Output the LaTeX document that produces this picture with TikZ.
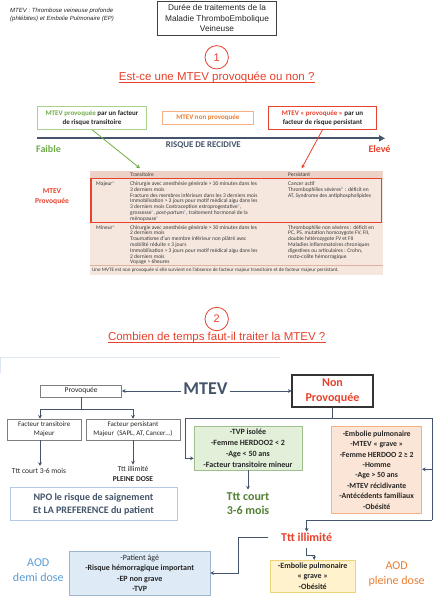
\documentclass[tikz,border=0pt]{standalone}
\usepackage{fontspec}
\setmainfont{Carlito}
\newfontfamily\arialf{Liberation Sans}
\usetikzlibrary{arrows.meta,calc}

\definecolor{redh}{RGB}{232,65,44}
\definecolor{axiscol}{RGB}{68,84,106}
\definecolor{greent}{RGB}{112,173,71}
\definecolor{greenb}{RGB}{169,209,142}
\definecolor{oranget}{RGB}{237,125,49}
\definecolor{orangeb}{RGB}{244,177,131}
\definecolor{tabbg}{RGB}{245,231,222}
\definecolor{tabhead}{RGB}{236,210,198}
\definecolor{tabline}{RGB}{226,176,158}
\definecolor{tabtxt}{RGB}{56,56,56}
\definecolor{dgreen}{RGB}{84,130,53}
\definecolor{gfill}{RGB}{226,239,217}
\definecolor{gbord}{RGB}{160,190,140}
\definecolor{ofill}{RGB}{251,229,214}
\definecolor{bfill}{RGB}{222,235,247}
\definecolor{bbord}{RGB}{157,181,205}
\definecolor{yfill}{RGB}{255,242,204}
\definecolor{ybord}{RGB}{240,210,120}
\definecolor{bluet}{RGB}{91,155,213}
\definecolor{npob}{RGB}{180,199,231}
\definecolor{faint}{RGB}{222,230,244}
\definecolor{grayb}{RGB}{127,127,127}
\definecolor{txt}{RGB}{38,38,38}

\newcommand{\fs}[2]{\fontsize{#1}{#2}\selectfont}
\newcommand{\supx}[1]{\textsuperscript{\color{bluet}#1}}

\begin{document}
\begin{tikzpicture}[x=1pt,y=-1pt,
  every node/.style={inner sep=0pt, text=txt},
  box/.style={draw, rectangle, align=center, inner sep=0pt},
  conn/.style={draw=axiscol, line width=0.9pt},
  tip/.style={-{Stealth[length=3.6pt,width=3.8pt]}},
  tabtext/.style={anchor=north west, align=left, text=tabtxt, font=\fs{5.5}{5.8}},
]
\useasboundingbox[fill=white] (0,0) rectangle (435,600);

% ---------- header ----------
\node[anchor=west, align=left, font=\arialf\itshape\fs{6}{8.3}] (legend) at (10,14.9)
  {MTEV : Thrombose veineuse profonde\\(phlébites) et Embolie Pulmonaire (EP)};
\node[box, draw=black!75, line width=0.7pt, minimum width=119.4pt, minimum height=34pt,
  font=\arialf\fs{8.3}{10.5}] (title) at (217,18)
  {Durée de traitements de la\\Maladie ThromboEmbolique\\Veineuse};

\node[circle, draw=redh, line width=0.8pt, minimum size=23.4pt, text=redh,
  font=\arialf\fs{11}{13}] (c1) at (216.7,57.3) {1};
\node[text=redh, font=\arialf\fs{11.5}{13}] (h1) at (216.7,77.3) {Est-ce une MTEV provoquée ou non ?};
\draw[redh, line width=0.6pt] ($(h1.base west)+(0,1.5)$) -- ($(h1.base east)+(0,1.5)$);

% ---------- top boxes ----------
\node[box, draw=greenb, line width=0.8pt, minimum width=109.4pt, minimum height=22.6pt,
  font=\bfseries\fs{7}{9.3}] (gtop) at (92,118)
  {\textcolor{greent}{MTEV provoquée} par un facteur\\de risque transitoire};
\node[box, draw=orangeb, line width=0.8pt, minimum width=91pt, minimum height=12.6pt,
  text=oranget, font=\bfseries\fs{7}{9}] (otop) at (207.8,118) {MTEV non provoquée};
\node[box, draw=redh, line width=0.8pt, minimum width=108.4pt, minimum height=22.6pt,
  font=\bfseries\fs{7}{9.3}] (rtop) at (322.5,118)
  {\textcolor{redh}{MTEV « provoquée »} par un\\facteur de risque persistant};

\coordinate (axL) at (37,138.3);
\coordinate (axR) at (385,138.3);
\draw[axiscol, line width=2pt, -{Triangle[length=6pt,width=6pt]}] (axL) -- (axR);
\node[text=greent, font=\bfseries\fs{10}{12}] (faible) at (48.5,149) {Faible};
\node[text=axiscol, font=\bfseries\fs{8.8}{10}] (risque) at (203.3,145) {RISQUE DE RECIDIVE};
\node[text=redh, font=\bfseries\fs{10}{12}] (eleve) at (379.5,149) {Elevé};

\coordinate (tabT) at (140,168.3);
\coordinate (tabP) at (301.7,168.3);
\draw[greent, line width=0.8pt, -{Stealth[length=4pt,width=4pt]}] (gtop.south) -- (tabT);
\draw[redh, line width=0.8pt, -{Stealth[length=4pt,width=4pt]}] (rtop.south) -- (tabP);

% ---------- table ----------
\fill[tabbg] (90,170.5) rectangle (383,275);
\fill[tabhead] (90,170.5) rectangle (383,178);
\draw[tabline, line width=0.5pt] (90,265.5) -- (383,265.5);
\draw[redh, line width=1.5pt] (91,178.7) rectangle (381.7,222.5);

\node[anchor=west, text=tabtxt, font=\fs{5.5}{6}] (hT) at (130,174.4) {Transitoire};
\node[anchor=west, text=tabtxt, font=\fs{5.5}{6}] (hP) at (288,174.4) {Persistant};
\node[tabtext] (lmaj) at (96,181.4) {Majeur\supx{a}};
\node[tabtext] (lmin) at (96,225) {Mineur\supx{a}};
\node[tabtext] (tmaj) at (130,181.4)
  {Chirurgie avec anesthésie générale > 30 minutes dans les\\
   3 derniers mois\\
   Fracture des membres inférieurs dans les 3 derniers mois\\
   Immobilisation > 3 jours pour motif médical aigu dans les\\
   3 derniers mois Contraception estroprogestative\supx{c},\\
   grossesse\supx{c}, \textit{post-partum}\supx{c}, traitement hormonal de la\\
   ménopause\supx{c}};
\node[tabtext] (pmaj) at (288,181.4)
  {Cancer actif\\
   Thrombophilies sévères\supx{b} : déficit en\\
   AT, Syndrome des antiphospholipides};
\node[tabtext] (tmin) at (130,225)
  {Chirurgie avec anesthésie générale > 30 minutes dans les\\
   2 derniers mois\\
   Traumatisme d'un membre inférieur non plâtré avec\\
   mobilité réduite ≥ 3 jours\\
   Immobilisation > 3 jours pour motif médical aigu dans les\\
   2 derniers mois\\
   Voyage > 6heures};
\node[tabtext] (pmin) at (288,225)
  {Thrombophilie non sévères : déficit en\\
   PC, PS, mutation homozygote FV, FII,\\
   double hétérozygote FV et FII\\
   Maladies inflammatoires chroniques\\
   digestives ou articulaires : Crohn,\\
   recto-colite hémorragique};
\node[anchor=west, text=tabtxt, font=\fs{5.1}{5.5}] (foot) at (92,269.8)
  {Une MVTE est non provoquée si elle survient en l'absence de facteur majeur transitoire et de facteur majeur persistant.};

\node[text=redh, align=center, font=\bfseries\fs{7.5}{10}] (mtevp) at (52,197) {MTEV\\Provoquée};

% ---------- section 2 ----------
\node[circle, draw=redh, line width=0.8pt, minimum size=23.4pt, text=redh,
  font=\arialf\fs{11}{13}] (c2) at (216.7,319) {2};
\node[text=redh, font=\arialf\fs{11.5}{13}] (h2) at (216.7,337.7) {Combien de temps faut-il traiter la MTEV ?};
\draw[redh, line width=0.6pt] ($(h2.base west)+(0,1.5)$) -- ($(h2.base east)+(0,1.5)$);

\draw[faint, line width=0.8pt] (0.6,373) -- (0.6,357.3) -- (280,357.3);

\node[text=axiscol, font=\bfseries\fs{18}{20}] (mtev) at (205.5,389) {MTEV};
\node[box, draw=grayb, line width=0.6pt, minimum width=81pt, minimum height=11.7pt,
  font=\fs{7.5}{9}] (prov) at (81.2,391) {Provoquée};
\node[box, draw=black!80, line width=1.1pt, minimum width=81pt, minimum height=32pt,
  text=redh, font=\bfseries\fs{12}{15.3}] (np) at (332.5,391) {Non\\Provoquée};

\draw[conn, tip] ($(mtev.west |- prov.east)+(-2,0)$) -- (prov.east);
\draw[conn, tip] ($(mtev.east |- np.west)+(2,0)$) -- (np.west);

\node[box, draw=grayb, line width=0.6pt, minimum width=73.7pt, minimum height=21pt,
  font=\fs{7}{8.7}] (ft) at (44.2,429.5) {Facteur transitoire\\Majeur};
\node[box, draw=grayb, line width=0.6pt, minimum width=94pt, minimum height=21pt,
  font=\fs{7}{8.7}] (fp) at (133,429.5) {Facteur persistant\\Majeur~~(SAPL, AT, Cancer\ldots)};

\coordinate (pj) at (81.2,409.3);
\coordinate (pjL) at (40,409.3);
\coordinate (pjR) at (133,409.3);
\draw[conn] (prov.south) -- (pj);
\draw[conn, tip] (pj) -- (pjL) -- (pjL |- ft.north);
\draw[conn, tip] (pj) -- (pjR) -- (fp.north);

\node[font=\fs{7.5}{9}] (ttc1) at (39,470.7) {Ttt court 3-6 mois};
\node[align=center, font=\fs{7.5}{9.7}] (tti1) at (133,474.2) {Ttt illimité\\\textbf{PLEINE DOSE}};
\draw[conn, tip, shorten >=2pt] (pjL |- ft.south) -- (pjL |- ttc1.north);
\draw[conn, tip, shorten >=2pt] (fp.south) -- (tti1.north);

\node[box, draw=npob, line width=0.9pt, minimum width=167pt, minimum height=33.5pt,
  text=axiscol, font=\bfseries\fs{10}{13}] (npo) at (93.5,504)
  {NPO le risque de saignement\\Et LA PREFERENCE du patient};

% non provoquee branch
\node[box, draw=gbord, line width=0.6pt, fill=gfill, minimum width=108pt, minimum height=43.3pt,
  font=\bfseries\fs{8}{10.8}] (gb) at (248,448.3)
  {-TVP isolée\\-Femme HERDOO2 < 2\\-Age < 50 ans\\-Facteur transitoire mineur};
\node[box, draw=orangeb, line width=0.6pt, fill=ofill, minimum width=90pt, minimum height=86.6pt,
  font=\bfseries\fs{7.8}{10.43}] (ob) at (376.7,470)
  {-Embolie pulmonaire\\-MTEV « grave »\\-Femme HERDOO 2 ≥ 2\\-Homme\\-Age > 50 ans\\-MTEV récidivante\\-Antécédents familiaux\\-Obésité};

\coordinate (nj) at (332.5,418.3);
\coordinate (nL) at (185,418.3);
\coordinate (nR) at (432,418.3);
\coordinate (nLb) at (185,458.3);
\coordinate (nRm) at (432,469.3);
\coordinate (nRb) at (432,520);
\draw[conn] (np.south) -- (nj);
\draw[conn] (nL) -- (nR) -- (nRb);
\draw[conn, tip] (nL) -- (nLb) -- (nLb -| gb.west);
\draw[conn, tip] (nRm) -- (nRm -| ob.east);

\node[text=dgreen, align=center, font=\bfseries\fs{12}{14.3}] (ttc2) at (248,503.8) {Ttt court\\3-6 mois};
\draw[conn, tip, shorten >=3pt] (gb.south) -- (ttc2.north);

\node[text=redh, font=\bfseries\fs{12}{14}] (tti2) at (306.7,537.5) {Ttt illimité};
\draw[conn, tip, shorten >=1.5pt] (nRb) -- (nRb -| tti2.north) -- (tti2.north);

\node[box, draw=bbord, line width=0.6pt, fill=bfill, minimum width=140.7pt, minimum height=44.3pt,
  font=\fs{8}{10.5}] (bb) at (139.7,573)
  {-Patient âgé\\\textbf{-Risque hémorragique important}\\\textbf{-EP non grave}\\\textbf{-TVP}};
\node[box, draw=ybord, line width=0.6pt, fill=yfill, minimum width=85.3pt, minimum height=31.7pt,
  font=\bfseries\fs{8}{10.7}] (yb) at (312.7,576)
  {-Embolie pulmonaire\\« grave »\\-Obésité};

\coordinate (tl) at ($(tti2.west)+(-13,0)$);
\draw[conn, tip] (tl) -| ($(bb.east)+(28,0)$) -- (bb.east);
\coordinate (zz1) at ($(tti2.south)+(0,6)$);
\coordinate (zz2) at ($(zz1)+(0,7)$);
\coordinate (zz3) at ($(zz2)+(7.5,0)$);
\draw[conn, tip] (zz1) -- (zz2) -- (zz3) -- (zz3 |- yb.north);

\node[text=bluet, align=center, font=\fs{12}{15.4}] (aod1) at (38.3,570) {AOD\\demi dose};
\node[text=oranget, align=center, font=\fs{12}{15}] (aod2) at (396.7,574.2) {AOD\\pleine dose};

\end{tikzpicture}
\end{document}
